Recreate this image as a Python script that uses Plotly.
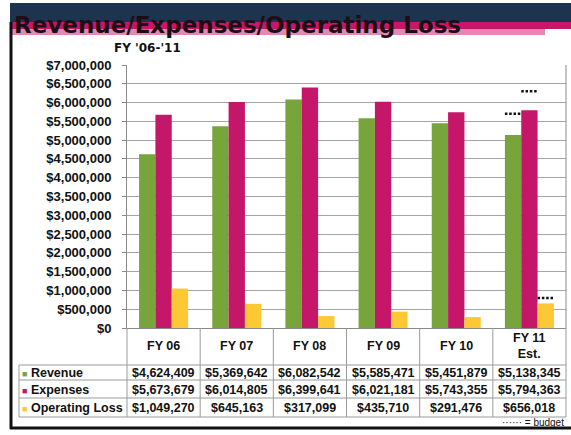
import plotly.graph_objects as go

categories = ["FY 06", "FY 07", "FY 08", "FY 09", "FY 10", "FY 11<br>Est."]
revenue = [4624409, 5369642, 6082542, 5585471, 5451879, 5138345]
expenses = [5673679, 6014805, 6399641, 6021181, 5743355, 5794363]
operating_loss = [1049270, 645163, 317099, 435710, 291476, 656018]
# FY 11 budget levels (dotted markers)
budget_revenue = 5700000
budget_expenses = 6300000
budget_operating_loss = 800000

series_names = ["Revenue", "Expenses", "Operating Loss"]
series_values = [revenue, expenses, operating_loss]
series_budget = [budget_revenue, budget_expenses, budget_operating_loss]
colors = ["#77a43b", "#c4176a", "#fcc934"]

y_ticks = list(range(0, 7000001, 500000))
y_ticktext = [f"${v:,}" for v in y_ticks]

# ---- geometry (pixels) ----
FW, FH = 571, 435
L, R, T, B = 127, 566, 65, 328
W, H = R - L, B - T
BARGAP = 0.33


def px(x):
    return (x - L) / W


def py(y):
    return (B - y) / H


fig = go.Figure()
for name, vals, col in zip(series_names, series_values, colors):
    fig.add_trace(go.Bar(x=categories, y=vals, name=name, marker=dict(color=col, line=dict(width=0)),
                         showlegend=False))

shapes = []
annotations = []

# budget dotted markers on the last category
bw = (1 - BARGAP) / 3
last = len(categories) - 1
for i, bval in enumerate(series_budget):
    c = last + (i - 1) * bw
    shapes.append(dict(type="line", xref="x", yref="y", x0=c - bw / 2, x1=c + bw / 2, y0=bval, y1=bval,
                       line=dict(color="#111111", width=2.5, dash="2.5px,1.8px"), layer="above"))

# title banner
shapes += [
    dict(type="rect", xref="paper", yref="paper", x0=px(10), x1=px(571), y0=py(3), y1=py(22),
         fillcolor="#1d3350", line=dict(width=0), layer="below"),
    dict(type="rect", xref="paper", yref="paper", x0=px(10), x1=px(571), y0=py(22), y1=py(29),
         fillcolor="#c8176b", line=dict(width=0), layer="below"),
    dict(type="rect", xref="paper", yref="paper", x0=px(10), x1=px(545), y0=py(29), y1=py(35),
         fillcolor="#e487b2", line=dict(width=0), layer="below"),
]
annotations.append(dict(text="<b>Revenue/Expenses/Operating Loss</b>", xref="paper", yref="paper",
                        x=px(12), y=py(25), xanchor="left", yanchor="middle", showarrow=False,
                        font=dict(family="DejaVu Sans", size=23, color="#1a1014")))
annotations.append(dict(text="<b>FY '06-'11</b>", xref="paper", yref="paper",
                        x=px(147), y=py(48), xanchor="center", yanchor="middle", showarrow=False,
                        font=dict(family="DejaVu Sans", size=12, color="#111111")))

# slide frame
shapes += [
    dict(type="line", xref="paper", yref="paper", x0=px(11), x1=px(11), y0=py(22), y1=py(429),
         line=dict(color="#111111", width=3)),
    dict(type="line", xref="paper", yref="paper", x0=px(10), x1=px(571), y0=py(428), y1=py(428),
         line=dict(color="#111111", width=3)),
]

# table grid
grid_col = "#9a9a9a"
n = len(categories)
for k in range(n + 1):
    xk = L + W * k / n
    shapes.append(dict(type="line", xref="paper", yref="paper", x0=px(xk), x1=px(xk), y0=py(B), y1=py(417),
                       line=dict(color=grid_col, width=1)))
shapes.append(dict(type="line", xref="paper", yref="paper", x0=px(19), x1=px(19), y0=py(365), y1=py(417),
                   line=dict(color=grid_col, width=1)))
row_lines = [365, 380, 398, 417]
for yl in row_lines:
    shapes.append(dict(type="line", xref="paper", yref="paper", x0=px(19), x1=px(R), y0=py(yl), y1=py(yl),
                       line=dict(color=grid_col, width=1)))
# plot right border
shapes.append(dict(type="line", xref="paper", yref="paper", x0=1, x1=1, y0=0, y1=1,
                   line=dict(color="#8a8a8a", width=1)))

tfont = dict(family="Liberation Sans", size=12.5, color="#111111", weight="bold")
for cat in categories:
    annotations.append(dict(text=cat, xref="x", yref="paper", x=cat, y=py(346), xanchor="center",
                            yanchor="middle", showarrow=False, font=tfont))

row_centers = [372.5, 389.5, 407.5]
for name, vals, col, yc in zip(series_names, series_values, colors, row_centers):
    annotations.append(dict(text=f'<span style="color:{col};font-size:9px">■</span> {name}', xref="paper",
                            yref="paper", x=px(20), y=py(yc), xanchor="left", yanchor="middle",
                            showarrow=False, font=tfont))
    for cat, v in zip(categories, vals):
        annotations.append(dict(text=f"${v:,}", xref="x", yref="paper", x=cat, y=py(yc), xanchor="center",
                                yanchor="middle", showarrow=False, font=tfont))

annotations.append(dict(text="······ = budget", xref="paper", yref="paper", x=px(566), y=py(422),
                        xanchor="right", yanchor="middle", showarrow=False,
                        font=dict(family="Liberation Sans", size=10, color="#111111")))

fig.update_layout(
    width=FW, height=FH,
    margin=dict(l=L, r=FW - R, t=T, b=FH - B, pad=0),
    paper_bgcolor="white", plot_bgcolor="white",
    barmode="group", bargap=BARGAP, bargroupgap=0,
    shapes=shapes, annotations=annotations,
    xaxis=dict(showticklabels=False, ticks="", showgrid=False, showline=True, linecolor="#8a8a8a",
               linewidth=1, zeroline=False, fixedrange=True),
    yaxis=dict(range=[0, 7000000], tickmode="array", tickvals=y_ticks, ticktext=y_ticktext,
               showgrid=True, gridcolor="#a5a5a5", gridwidth=1, showline=True, linecolor="#8a8a8a",
               ticks="outside", ticklen=4, tickcolor="#8a8a8a", zeroline=False, automargin=False,
               tickfont=dict(family="Liberation Sans", size=13, color="#111111", weight="bold"),
               ticklabelstandoff=8),
)

fig.write_html("out.html", config={"displayModeBar": False},
               post_script="document.body.style.margin='0';")
